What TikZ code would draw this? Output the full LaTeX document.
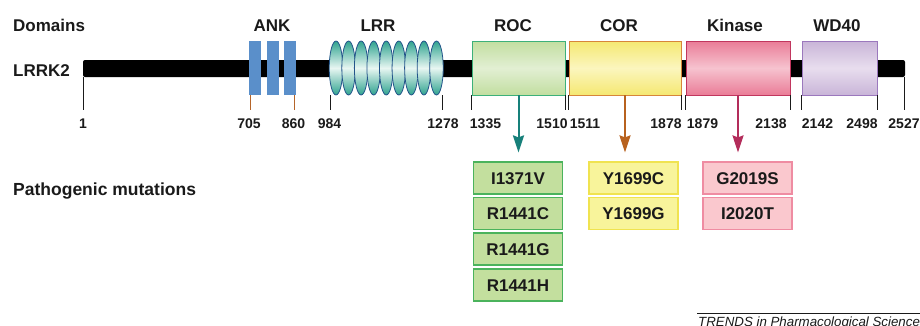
\documentclass[tikz,border=0pt]{standalone}
\usepackage{fontspec}
\setmainfont{Liberation Sans}
\usetikzlibrary{arrows.meta,shapes.geometric}
\definecolor{ink}{HTML}{1A1A1A}
\definecolor{ankblue}{HTML}{5A8FCA}
\definecolor{rocedge}{HTML}{C2DEA0}\definecolor{rocmid}{HTML}{E2EFD3}\definecolor{rocline}{HTML}{3DB07A}
\definecolor{coredge}{HTML}{F5E872}\definecolor{cormid}{HTML}{FBF6BE}\definecolor{corline}{HTML}{D7853A}
\definecolor{kinedge}{HTML}{EA7C97}\definecolor{kinmid}{HTML}{F6C3CF}\definecolor{kinline}{HTML}{C1365E}
\definecolor{wdedge}{HTML}{C9B5D8}\definecolor{wdmid}{HTML}{E8DDEE}\definecolor{wdline}{HTML}{9B78BD}
\definecolor{lrredge}{HTML}{2FA38F}\definecolor{lrrmid}{HTML}{E8F6F2}\definecolor{lrrline}{HTML}{23548A}
\definecolor{rocarrow}{HTML}{17807A}\definecolor{corarrow}{HTML}{B8621F}\definecolor{kinarrow}{HTML}{B32D5B}
\definecolor{mgfill}{HTML}{C3DF9E}\definecolor{mgline}{HTML}{4BB35C}
\definecolor{myfill}{HTML}{F8F49B}\definecolor{myline}{HTML}{F0E350}
\definecolor{mpfill}{HTML}{FAC8CE}\definecolor{mpline}{HTML}{EF8CA2}
\definecolor{anktick}{HTML}{B5652A}
\begin{document}
\begin{tikzpicture}[x=1pt,y=-1pt,
  lab/.style={font=\fontsize{17}{20}\selectfont\bfseries, text=ink, inner sep=0pt},
  ticklab/.style={font=\fontsize{14}{16}\selectfont\bfseries, text=ink, inner sep=0pt, anchor=base},
  dombox/.style={draw, line width=0.9pt, minimum height=54, inner sep=0pt},
  ankbox/.style={fill=ankblue, minimum width=12, minimum height=54, inner sep=0pt},
  lrrell/.style={ellipse, draw=lrrline, line width=0.8pt, minimum width=13.5, minimum height=54, inner sep=0pt,
     top color=lrredge, bottom color=lrredge, middle color=lrrmid},
  tickline/.style={line width=0.8pt, draw=ink},
  mut/.style={draw, line width=1.2pt, minimum width=89, minimum height=32, inner sep=0pt,
     font=\fontsize{17}{20}\selectfont\bfseries, text=ink, text height=12pt, text depth=0pt},
  marrow/.style={line width=2pt, -{Stealth[width=11pt,length=17pt,inset=2pt]}}
]
\useasboundingbox (0,0) rectangle (920,325);
\clip (0,0) rectangle (920,325);

% headings
\node[lab, anchor=base west] (domains) at (13,31.5) {Domains};
\node[lab, anchor=base west] (lrrk2) at (13,76) {LRRK2};
\node[lab, anchor=base west, font=\fontsize{17.5}{20}\selectfont\bfseries] (patho) at (13,195) {Pathogenic mutations};

% backbone
\node[fill=black, minimum width=822, minimum height=17, inner sep=0pt, rounded corners=2pt] (bar) at (494,68.5) {};

% ANK
\node[ankbox] (ank1) at (255,68) {};
\node[ankbox] (ank2) at (272.5,68) {};
\node[ankbox] (ank3) at (289.5,68) {};

% LRR
\foreach \i in {0,...,8} {
  \node[lrrell] (lrr\i) at ({336+12.56*\i},68) {};
}

% domain boxes
\node[dombox, draw=rocline, minimum width=93, top color=rocedge, bottom color=rocedge, middle color=rocmid] (roc) at (518.5,68) {};
\node[dombox, draw=corline, minimum width=112, top color=coredge, bottom color=coredge, middle color=cormid] (cor) at (625,68) {};
\node[dombox, draw=kinline, minimum width=104, top color=kinedge, bottom color=kinedge, middle color=kinmid] (kin) at (738,68) {};
\node[dombox, draw=wdline, minimum width=75, top color=wdedge, bottom color=wdedge, middle color=wdmid] (wd) at (839.5,68) {};

% domain labels
\node[lab, anchor=base] (lank) at (272,31.5) {ANK};
\node[lab, anchor=base] (llrr) at (378,31.5) {LRR};
\node[lab, anchor=base] (lroc) at (513,31.5) {ROC};
\node[lab, anchor=base] (lcor) at (619,31.5) {COR};
\node[lab, anchor=base] (lkin) at (735,31.5) {Kinase};
\node[lab, anchor=base] (lwd) at (837,31.5) {WD40};

% ticks
\coordinate (c1) at (83,77);
\coordinate (c2527) at (904,77);
\draw[tickline] (c1) -- ++(0,33);
\draw[tickline] (c2527) -- ++(0,33);
\draw[line width=0.8pt, draw=anktick] (250,95) -- ++(0,15);
\draw[line width=0.8pt, draw=anktick] (294,95) -- ++(0,15);
\draw[tickline] (330,95) -- ++(0,15);
\draw[tickline] (442,95) -- ++(0,15);
\foreach \n in {roc,cor,kin,wd} {
  \draw[tickline] (\n.south west) -- ++(0,15);
  \draw[tickline] (\n.south east) -- ++(0,15);
}

% tick labels
\node[ticklab] (n1) at (83,128) {1};
\node[ticklab] (n705) at (249,128) {705};
\node[ticklab] (n860) at (293.5,128) {860};
\node[ticklab] (n984) at (329.5,128) {984};
\node[ticklab] (n1278) at (443,128) {1278};
\node[ticklab] (n1335) at (485.5,128) {1335};
\node[ticklab] (n1510) at (552,128) {1510};
\node[ticklab] (n1511) at (585,128) {1511};
\node[ticklab] (n1878) at (666,128) {1878};
\node[ticklab] (n1879) at (702.5,128) {1879};
\node[ticklab] (n2138) at (771,128) {2138};
\node[ticklab] (n2142) at (817.5,128) {2142};
\node[ticklab] (n2498) at (862,128) {2498};
\node[ticklab] (n2527) at (904,128) {2527};

% mutation boxes
\node[mut, draw=mgline, fill=mgfill] (g1) at (518,178) {I1371V};
\node[mut, draw=mgline, fill=mgfill] (g2) at (518,213.5) {R1441C};
\node[mut, draw=mgline, fill=mgfill] (g3) at (518,249) {R1441G};
\node[mut, draw=mgline, fill=mgfill] (g4) at (518,285) {R1441H};
\node[mut, draw=myline, fill=myfill] (y1) at (633.5,178) {Y1699C};
\node[mut, draw=myline, fill=myfill] (y2) at (633.5,213.5) {Y1699G};
\node[mut, draw=mpline, fill=mpfill] (p1) at (747.5,178) {G2019S};
\node[mut, draw=mpline, fill=mpfill] (p2) at (747.5,213.5) {I2020T};

% arrows
\draw[marrow, draw=rocarrow, fill=rocarrow, shorten >=9pt] (roc.south) -- (roc.south |- g1.north);
\draw[marrow, draw=corarrow, fill=corarrow, shorten >=9pt] (cor.south) -- (cor.south |- y1.north);
\draw[marrow, draw=kinarrow, fill=kinarrow, shorten >=9pt] (kin.south) -- (kin.south |- p1.north);

% source line
\coordinate (srcl) at (697,313);
\coordinate (srcr) at (920,313);
\draw[line width=0.6pt, draw=ink] (srcl) -- (srcr);
\node[anchor=base west, inner sep=0pt, text=ink, font=\fontsize{13.3}{15}\selectfont\itshape] (trends) at (698,326) {TRENDS in Pharmacological Sciences};
\end{tikzpicture}
\end{document}
